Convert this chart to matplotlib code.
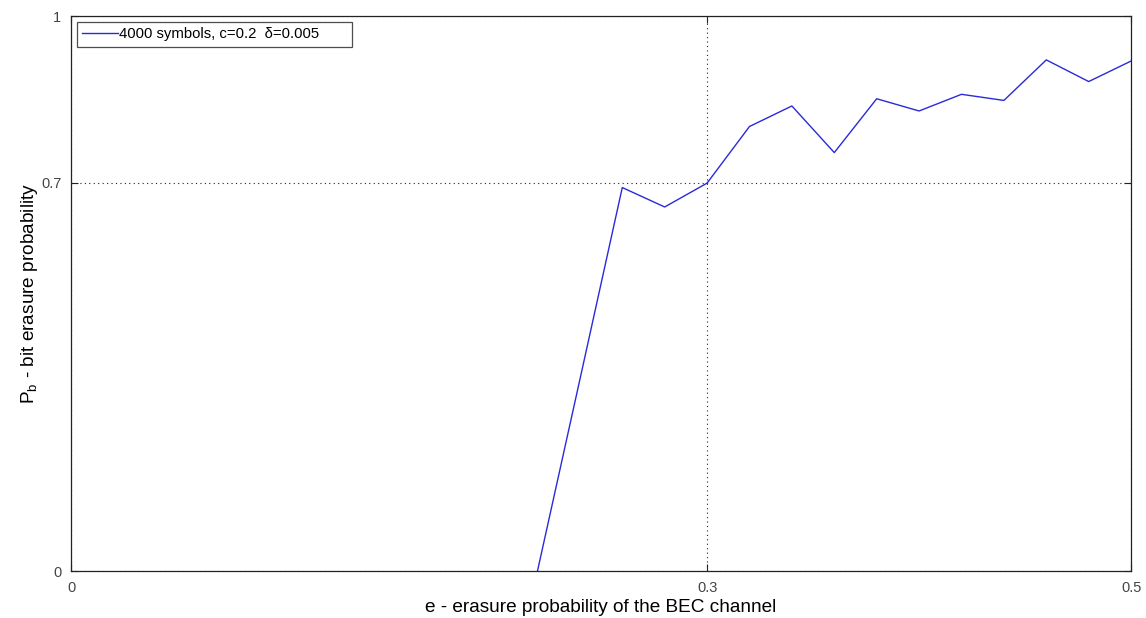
import matplotlib
matplotlib.use("Agg")
import matplotlib.pyplot as plt

# BEC channel erasure probability vs. decoded bit erasure probability
erasure_prob = [0.22, 0.24, 0.26, 0.28, 0.30, 0.32, 0.34, 0.36, 0.38,
                0.40, 0.42, 0.44, 0.46, 0.48, 0.50]
bit_erasure = [0.0, 0.345, 0.691, 0.656, 0.699, 0.801, 0.838, 0.754, 0.851,
               0.829, 0.859, 0.848, 0.921, 0.882, 0.919]
series_label = "4000 symbols, c=0.2  \u03b4=0.005"

x_ticks = [0, 0.3, 0.5]
x_tick_labels = ["0", "0.3", "0.5"]
y_ticks = [0, 0.7, 1]
y_tick_labels = ["0", "0.7", "1"]

plt.rcParams["font.family"] = ["Liberation Sans", "DejaVu Sans"]

fig = plt.figure(figsize=(11.46, 6.18), dpi=100)
ax = fig.add_axes([0.062, 0.076, 0.925, 0.898])

ax.plot(erasure_prob, bit_erasure, color="#2a2ad8", linewidth=1.0,
        label=series_label)

ax.set_xlim(0, 0.5)
ax.set_ylim(0, 1)
ax.set_xticks(x_ticks)
ax.set_xticklabels(x_tick_labels)
ax.set_yticks(y_ticks)
ax.set_yticklabels(y_tick_labels)

ax.grid(True, linestyle=(0, (1, 3)), color="#222222", linewidth=0.8)
ax.tick_params(direction="in", length=5, width=0.8, top=True, right=True,
               labelsize=10.5, labelcolor="#444444", colors="#222222", pad=7)
for spine in ax.spines.values():
    spine.set_linewidth(0.9)
    spine.set_color("#222222")

ax.set_xlabel("e - erasure probability of the BEC channel", fontsize=13.7,
              labelpad=3)
ax.set_ylabel("P$_{\\mathregular{b}}$ - bit erasure probability", fontsize=13.7,
              labelpad=1)

# legend box stretched across a fixed span in axes coordinates
leg = ax.legend(loc="upper left", fontsize=10.7, frameon=True, fancybox=False,
                handlelength=2.4, handletextpad=0.1, borderpad=0.35,
                borderaxespad=0.0, mode="expand",
                bbox_to_anchor=(0.0057, 0.940, 0.259, 0.049))
leg.get_frame().set_edgecolor("#222222")
leg.get_frame().set_linewidth(0.9)

fig.savefig("out.png", dpi=100)
